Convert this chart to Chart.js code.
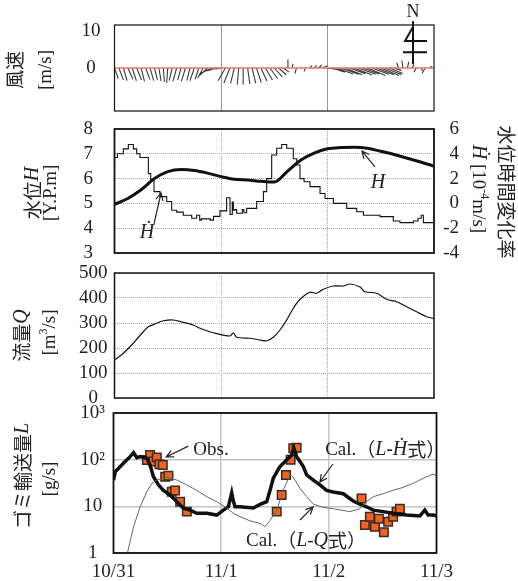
<!DOCTYPE html>
<html>
<head>
<meta charset="utf-8">
<script src="https://cdn.jsdelivr.net/npm/chart.js@4.4.0/dist/chart.umd.min.js"></script>
<style>
  html, body { margin: 0; padding: 0; background: #fff; }
  #wrap { position: relative; width: 518px; height: 581px; overflow: hidden; }
  #wrap canvas { position: absolute; left: 0; }
</style>
</head>
<body>
<div id="wrap">
  <canvas id="c1" width="518" height="125" style="top:0px"></canvas>
  <canvas id="c2" width="518" height="152" style="top:115px"></canvas>
  <canvas id="c3" width="518" height="153" style="top:259px"></canvas>
  <canvas id="c4" width="518" height="182" style="top:399px"></canvas>
</div>
<script>
// x values are days since 10/31 0:00
const dayLabels = ['10/31', '11/1', '11/2', '11/3'];

// wind, hourly from 10/31 0:00 (east, north components, m/s)
const windU = [1.0, 1.2, 1.0, 1.4, 1.1, 1.3, 0.9, 1.2, 1.0, 0.8, 0.6, 0.3, -0.3, -0.8, -1.0, -0.9, -1.1, -0.8, -1.2, -1.0, -1.5, -2.2, -3.0, -2.5,
  -1.5, -2.0, -1.6, -1.0, -0.4, 0.0, 0.6, 1.0, 1.3, 1.6, 1.9, 2.1, 2.2, 2.0, 1.6, 0.1, 0.3, -0.4, 0.2, -0.3, 0.6, 0.7, 0.8, 1.2,
  2.0, 3.5, 4.5, 4.8, 4.5, 4.2, 4.8, 4.6, 4.3, 4.8, 4.5, 4.7, 4.9, 4.4, 3.5, 2.0, -0.5, -0.3, 0.4, 0.6, -0.6, 0.5, -0.8, 0.7, 1.6];
const windV = [-2.8, -3.2, -3.4, -3.0, -3.4, -3.2, -3.6, -3.1, -3.4, -3.2, -3.5, -3.7, -4.0, -3.4, -3.6, -3.2, -3.5, -3.3, -3.4, -3.0, -2.7, -2.0, -1.4, -0.7,
  -0.3, -3.4, -4.0, -4.1, -4.4, -4.5, -4.3, -4.1, -3.9, -3.5, -3.2, -2.8, -2.4, -1.8, -1.1, 2.3, 1.1, -1.5, 0.3, -0.9, 0.6, 0.7, 0.8, 0.6,
  -0.3, -1.1, -1.6, -1.7, -1.8, -1.5, -1.9, -1.7, -1.6, -2.0, -1.7, -1.8, -2.0, -1.8, -1.5, -0.7, 1.4, 2.0, 1.7, 0.9, -1.1, -0.7, -1.4, 0.5, 0.6];

// water level H (Y.P.m), every 3 h
const hTime = [0, 0.125, 0.25, 0.375, 0.5, 0.625, 0.75, 0.875, 1.0, 1.125, 1.25, 1.375, 1.5, 1.625, 1.75, 1.875, 2.0, 2.125, 2.25, 2.375, 2.5, 2.625, 2.75, 2.875, 3.0];
const hLevel = [4.96, 5.2, 5.55, 6.0, 6.28, 6.37, 6.33, 6.22, 6.08, 5.97, 5.94, 5.89, 5.86, 6.3, 6.75, 7.03, 7.2, 7.25, 7.26, 7.22, 7.1, 6.97, 6.82, 6.67, 6.5];

// rate of change dH/dt (1e-4 m/s), step starts
const dhTime = [0, 0.027, 0.083, 0.13, 0.177, 0.208, 0.239, 0.318, 0.34, 0.371, 0.427, 0.49, 0.537, 0.584, 0.646, 0.725, 0.771, 0.80, 0.815, 0.9, 0.93, 0.99,
  1.053, 1.085, 1.106, 1.116, 1.131, 1.147, 1.2, 1.215, 1.241, 1.335, 1.398, 1.429, 1.476, 1.523, 1.57, 1.617, 1.679, 1.711, 1.742, 1.78, 1.836, 1.93, 1.977,
  2.055, 2.18, 2.274, 2.337, 2.493, 2.618, 2.681, 2.806, 2.85, 2.88, 2.90, 2.947, 3.0];
const dhRate = [2.8, 3.7, 4.0, 4.4, 4.75, 4.4, 4.0, 3.7, 2.4, 1.9, 0.95, 0.55, 0.15, -0.55, -0.7, -0.95, -1.2, -0.95, -1.35, -1.25, -1.35, -1.05,
  -0.6, 0.45, -0.9, 0.1, -0.55, -0.5, -0.8, -0.5, -0.75, -0.4, 0.15, 0.95, 2.0, 3.9, 4.45, 4.75, 4.45, 3.6, 3.1, 2.0, 1.75, 1.35, 0.8,
  0.4, 0.0, -0.4, -0.67, -0.95, -1.07, -1.42, -1.55, -1.42, -1.2, -0.95, -1.55, -1.55];

// discharge Q (m3/s)
const qTime = [0, 0.083, 0.161, 0.224, 0.271, 0.318, 0.396, 0.459, 0.552, 0.646, 0.740, 0.803, 0.928, 1.085, 1.116, 1.147, 1.272, 1.366, 1.429, 1.491,
  1.554, 1.617, 1.679, 1.742, 1.836, 1.898, 1.961, 2.055, 2.149, 2.211, 2.305, 2.352, 2.462, 2.556, 2.650, 2.743, 2.837, 2.931, 3.0];
const qFlow = [152, 179, 212, 243, 265, 285, 299, 309, 312, 303, 292, 279, 261, 248, 261, 243, 239, 232, 229, 243,
  272, 312, 359, 395, 423, 419, 435, 448, 448, 456, 444, 425, 419, 395, 385, 365, 345, 325, 318];

// litter transport L (g/s)
const calHTime = [0, 0.016, 0.062, 0.108, 0.155, 0.186, 0.217, 0.248, 0.31, 0.34, 0.371, 0.418, 0.464, 0.526, 0.588, 0.649, 0.711, 0.773, 0.866, 0.959,
  1.02, 1.067, 1.098, 1.113, 1.129, 1.175, 1.299, 1.361, 1.423, 1.454, 1.484, 1.546, 1.608, 1.655, 1.676, 1.701, 1.732, 1.763, 1.794, 1.856, 1.917,
  1.979, 2.041, 2.134, 2.226, 2.288, 2.35, 2.412, 2.505, 2.597, 2.721, 2.845, 2.891, 2.922, 2.968, 3.0];
const calHLoad = [36.6, 55, 71, 91, 116, 141, 110, 116, 107, 77, 43, 28.7, 22, 17.5, 12.6, 9.1, 8.3, 7.1, 7.1, 6.5,
  8.3, 9.8, 19.6, 13, 9.8, 9.8, 9.2, 11, 12.6, 22, 40, 71, 98, 126, 175, 116, 91, 71, 47, 36.6, 28.7,
  22, 20.3, 18.6, 13, 11.1, 9.8, 8.3, 7.7, 7.1, 6.5, 6.2, 8.3, 6.5, 6.5, 6.3];
const calQTime = [0.12, 0.186, 0.248, 0.31, 0.356, 0.402, 0.495, 0.588, 0.681, 0.773, 0.866, 0.959, 1.052, 1.113, 1.175, 1.268, 1.361, 1.407, 1.454,
  1.516, 1.577, 1.639, 1.67, 1.732, 1.794, 1.856, 1.948, 2.041, 2.196, 2.288, 2.35, 2.412, 2.505, 2.597, 2.69, 2.783, 2.876, 2.968, 3.0];
const calQLoad = [0.8, 3.66, 9.8, 20.6, 31, 36.6, 41.9, 36.6, 28.7, 22, 16.1, 12.6, 9.2, 7.1, 6.0, 4.9, 4.3, 3.66, 5.0,
  8.3, 22, 47, 42, 24.3, 16.1, 11.1, 9.5, 8.9, 7.7, 8.9, 12.6, 16.1, 18.6, 22, 25.5, 31, 40, 49, 45];
const obsTime = [0.31, 0.34, 0.371, 0.402, 0.427, 0.458, 0.48, 0.51, 0.541, 0.572, 0.619, 0.681,
  1.516, 1.562, 1.602, 1.645, 1.67, 1.701,
  2.304, 2.335, 2.381, 2.428, 2.465, 2.511, 2.551, 2.597, 2.629, 2.66];
const obsLoad = [98, 126, 91, 112, 80, 77, 43, 45, 20.6, 21.8, 12.6, 7.7,
  7.7, 17.5, 47, 100, 175, 180,
  14.8, 4.0, 6.0, 3.66, 5.4, 2.8, 4.7, 6.0, 7.7, 8.9];

const SERIF = '"Liberation Serif", "DejaVu Serif", serif';
const CJK = '"Noto Sans CJK JP", sans-serif';
const INK = '#222';
const CLEAR = 'rgba(0,0,0,0)';
const STICK_K = 0.035; // days per m/s so sticks keep their direction

Chart.defaults.font.family = SERIF;
Chart.defaults.color = INK;
Chart.defaults.animation = false;

function drawRich(ctx, x, y, rot, parts, align) {
  ctx.save();
  ctx.translate(x, y);
  ctx.rotate(rot);
  let total = 0;
  parts.forEach(function (p) { ctx.font = p[1]; total += ctx.measureText(p[0]).width; });
  let cx = align === 'left' ? 0 : -total / 2;
  ctx.textAlign = 'left';
  ctx.textBaseline = 'middle';
  ctx.fillStyle = INK;
  parts.forEach(function (p) {
    ctx.font = p[1];
    ctx.fillText(p[0], cx, p[2] || 0);
    cx += ctx.measureText(p[0]).width;
  });
  ctx.restore();
}

function arrow(ctx, x1, y1, x2, y2) {
  // line from 1 to 2, open head at 2
  let a = Math.atan2(y2 - y1, x2 - x1);
  ctx.save();
  ctx.strokeStyle = INK;
  ctx.lineWidth = 1.2;
  ctx.beginPath();
  ctx.moveTo(x1, y1);
  ctx.lineTo(x2, y2);
  ctx.moveTo(x2 - 8 * Math.cos(a - 0.45), y2 - 8 * Math.sin(a - 0.45));
  ctx.lineTo(x2, y2);
  ctx.lineTo(x2 - 8 * Math.cos(a + 0.45), y2 - 8 * Math.sin(a + 0.45));
  ctx.stroke();
  ctx.restore();
}

function framePlugin(width, extra) {
  return {
    id: 'frame',
    afterDraw(chart) {
      const ctx = chart.ctx;
      const a = chart.chartArea;
      ctx.save();
      ctx.strokeStyle = '#111';
      ctx.lineWidth = width;
      ctx.strokeRect(a.left, a.top, a.right - a.left, a.bottom - a.top);
      ctx.restore();
      if (extra) extra(chart, ctx, a, (a.top + a.bottom) / 2);
    },
  };
}

function xAxis(gridColor, dash, lineWidth, labels) {
  return {
    type: 'linear',
    min: 0,
    max: 3,
    border: { display: false, dash: dash },
    grid: {
      drawTicks: false,
      lineWidth: lineWidth,
      color: function (c) {
        return c.tick && (c.tick.value === 1 || c.tick.value === 2) ? gridColor : CLEAR;
      },
    },
    ticks: {
      display: labels,
      stepSize: 1,
      padding: 8,
      font: { size: 19 },
      maxRotation: 0,
      callback: function (v) { return dayLabels[v]; },
    },
    afterFit: function (s) { s.height = labels ? 28 : 0; },
  };
}

// left axis: labels centred, pushed off the frame by an invisible tick length
function leftY(opts, width, tl, grid) {
  return Object.assign({
    position: 'left',
    border: { display: false, dash: grid.dash || [] },
    grid: {
      drawOnChartArea: grid.show,
      color: grid.color || CLEAR,
      lineWidth: grid.width || 1,
      drawTicks: true,
      tickLength: tl,
      tickColor: CLEAR,
    },
    afterFit: function (s) { s.width = width; },
  }, opts);
}

function tickFont(extra) {
  return Object.assign({ crossAlign: 'center', padding: 0, autoSkip: false, font: { size: 19 } }, extra || {});
}

// ---------- panel 1: wind ----------
let windSticks = [];
for (let i = 0; i < windU.length; i++) {
  let t = i / 24;
  windSticks.push({ x: t, y: 0 });
  windSticks.push({ x: t + windU[i] * STICK_K, y: windV[i] });
  windSticks.push({ x: t, y: null });
}

new Chart(document.getElementById('c1'), {
  type: 'line',
  data: {
    datasets: [
      { data: [{ x: 0, y: 0 }, { x: 3, y: 0 }], borderColor: '#f07070', borderWidth: 1.6, pointRadius: 0 },
      { data: windSticks, borderColor: '#3a3a3a', borderWidth: 1.1, pointRadius: 0, spanGaps: false },
    ],
  },
  options: {
    responsive: false,
    layout: { padding: { left: 0, right: 84, top: 25, bottom: 14 } },
    plugins: { legend: { display: false }, tooltip: { enabled: false } },
    scales: {
      x: xAxis('#9a9a9a', [], 1, false),
      y: leftY({
        min: -11.5,
        max: 11.5,
        afterBuildTicks: function (s) { s.ticks = [{ value: 0 }, { value: 10 }]; },
        ticks: tickFont(),
      }, 114.5, 14, { show: false }),
    },
  },
  plugins: [framePlugin(1.2, function (chart, ctx, a, mid) {
    const xs = chart.scales.x, ys = chart.scales.y;
    const px = xs.getPixelForValue(2.803);
    ctx.save();
    ctx.strokeStyle = '#111';
    ctx.lineWidth = 2;
    ctx.beginPath();
    ctx.moveTo(px, ys.getPixelForValue(1));
    ctx.lineTo(px, ys.getPixelForValue(12.5));
    ctx.moveTo(px, ys.getPixelForValue(11));
    ctx.lineTo(px - 8, ys.getPixelForValue(7.2));
    ctx.lineTo(px + 14, ys.getPixelForValue(7.2));
    ctx.moveTo(px - 10, ys.getPixelForValue(4.2));
    ctx.lineTo(px + 14, ys.getPixelForValue(4.2));
    ctx.stroke();
    ctx.restore();
    drawRich(ctx, px, a.top - 13, 0, [['N', '18px ' + SERIF]]);
    drawRich(ctx, 15, mid + 2, -Math.PI / 2, [['風速', '19px ' + CJK]]);
    drawRich(ctx, 46, mid + 2, -Math.PI / 2, [['[m/s]', '19px ' + SERIF]]);
  })],
});

// ---------- panel 2: water level ----------
new Chart(document.getElementById('c2'), {
  type: 'line',
  data: {
    datasets: [
      {
        data: dhTime.map(function (t, i) { return { x: t, y: dhRate[i] }; }),
        yAxisID: 'y2', borderColor: '#111', borderWidth: 1.1, pointRadius: 0, stepped: 'after',
      },
      {
        data: hTime.map(function (t, i) { return { x: t, y: hLevel[i] }; }),
        yAxisID: 'y', borderColor: '#111', borderWidth: 3, pointRadius: 0, cubicInterpolationMode: 'monotone',
      },
    ],
  },
  options: {
    responsive: false,
    layout: { padding: { left: 0, right: 59, top: 14, bottom: 14 } },
    plugins: { legend: { display: false }, tooltip: { enabled: false } },
    scales: {
      x: xAxis('#aaa', [1, 1], 1, false),
      y: leftY({
        min: 3, max: 8,
        ticks: tickFont({ stepSize: 1 }),
      }, 114.5, 21.5, { show: true, color: '#aaa', dash: [1, 1] }),
      y2: {
        position: 'right',
        min: -4, max: 6,
        border: { display: false },
        grid: { drawOnChartArea: false, drawTicks: false },
        ticks: { stepSize: 2, crossAlign: 'far', padding: 0, autoSkip: false, font: { size: 19 } },
        afterFit: function (s) { s.width = 25; },
      },
    },
  },
  plugins: [framePlugin(1.8, function (chart, ctx, a, mid) {
    const xs = chart.scales.x, ys = chart.scales.y;
    const P = function (d, v) { return [xs.getPixelForValue(d), ys.getPixelForValue(v)]; };
    let p = P(2.446, 6.47), q = P(2.324, 7.11);
    arrow(ctx, p[0], p[1], q[0], q[1]);
    let l = P(2.474, 5.82);
    drawRich(ctx, l[0], l[1], 0, [['H', 'italic 20px ' + SERIF]]);
    p = P(0.371, 4.17); q = P(0.437, 5.42);
    arrow(ctx, p[0], p[1], q[0], q[1]);
    l = P(0.305, 3.81);
    drawRich(ctx, l[0], l[1], 0, [['Ḣ', 'italic 20px ' + SERIF]]);
    drawRich(ctx, 33, mid + 2, -Math.PI / 2, [['水位', '19px ' + CJK], ['H', 'italic 20px ' + SERIF]]);
    drawRich(ctx, 51, mid + 2, -Math.PI / 2, [['[Y.P.m]', '19px ' + SERIF]]);
    drawRich(ctx, 506, mid + 1, Math.PI / 2, [['水位時間変化率', '19px ' + CJK]]);
    drawRich(ctx, 478, mid - 2, Math.PI / 2, [['Ḣ', 'italic 20px ' + SERIF], [' [10', '19px ' + SERIF], ['-4', '12px ' + SERIF, -6], ['m/s]', '19px ' + SERIF]]);
  })],
});

// ---------- panel 3: discharge ----------
new Chart(document.getElementById('c3'), {
  type: 'line',
  data: {
    datasets: [{
      data: qTime.map(function (t, i) { return { x: t, y: qFlow[i] }; }),
      borderColor: '#111', borderWidth: 1.2, pointRadius: 0, tension: 0.3,
    }],
  },
  options: {
    responsive: false,
    layout: { padding: { left: 0, right: 84, top: 14, bottom: 14 } },
    plugins: { legend: { display: false }, tooltip: { enabled: false } },
    scales: {
      x: xAxis('#aaa', [1, 1], 1, false),
      y: leftY({
        min: 0, max: 500,
        ticks: tickFont({ stepSize: 100 }),
      }, 114.5, 7, { show: true, color: '#aaa', dash: [1, 1] }),
    },
  },
  plugins: [framePlugin(1.5, function (chart, ctx, a, mid) {
    drawRich(ctx, 22, mid, -Math.PI / 2, [['流量', '19px ' + CJK], ['Q', 'italic 20px ' + SERIF]]);
    drawRich(ctx, 50, mid - 3, -Math.PI / 2, [['[m', '19px ' + SERIF], ['3', '12px ' + SERIF, -6], ['/s]', '19px ' + SERIF]]);
  })],
});

// ---------- panel 4: litter transport ----------
new Chart(document.getElementById('c4'), {
  type: 'line',
  data: {
    datasets: [
      {
        data: calQTime.map(function (t, i) { return { x: t, y: calQLoad[i] }; }),
        borderColor: '#666', borderWidth: 1, pointRadius: 0,
      },
      {
        data: calHTime.map(function (t, i) { return { x: t, y: calHLoad[i] }; }),
        borderColor: '#111', borderWidth: 3.5, pointRadius: 0,
      },
      {
        data: obsTime.map(function (t, i) { return { x: t, y: obsLoad[i] }; }),
        showLine: false, pointStyle: 'rect', pointRadius: 6,
        backgroundColor: '#ee6422', borderColor: '#3a2a20', borderWidth: 1.5,
      },
    ],
  },
  options: {
    responsive: false,
    layout: { padding: { left: 0, right: 81.5, top: 14, bottom: 0 } },
    plugins: { legend: { display: false }, tooltip: { enabled: false } },
    scales: {
      x: xAxis('#c4c4c4', [], 1.5, true),
      y: leftY({
        type: 'logarithmic',
        min: 1, max: 1000,
        afterBuildTicks: function (s) { s.ticks = [{ value: 1 }, { value: 10 }, { value: 100 }, { value: 1000 }]; },
        ticks: tickFont({
          callback: function (v) { return { 1: '1', 10: '10', 100: '10²', 1000: '10³' }[v]; },
        }),
      }, 113.5, 8.5, { show: true, color: '#c4c4c4', width: 1.5 }),
    },
  },
  plugins: [framePlugin(1.8, function (chart, ctx, a, mid) {
    const xs = chart.scales.x, ys = chart.scales.y;
    const P = function (d, v) { return [xs.getPixelForValue(d), ys.getPixelForValue(v)]; };
    let p = P(0.695, 195), q = P(0.489, 114);
    arrow(ctx, p[0], p[1], q[0], q[1]);
    let l = P(0.741, 161);
    drawRich(ctx, l[0], l[1], 0, [['Obs.', '19px ' + SERIF]], 'left');
    p = P(2.038, 80.7); q = P(1.917, 33.2);
    arrow(ctx, p[0], p[1], q[0], q[1]);
    l = P(1.966, 161);
    drawRich(ctx, l[0], l[1], 0, [['Cal.', '19px ' + SERIF], ['（', '19px ' + CJK], ['L', 'italic 20px ' + SERIF],
      ['-', 'bold 19px ' + SERIF], ['Ḣ', 'italic 20px ' + SERIF], ['式', '19px ' + CJK], ['）', '19px ' + CJK]], 'left');
    p = P(1.732, 5.1); q = P(1.853, 9.7);
    arrow(ctx, p[0], p[1], q[0], q[1]);
    l = P(1.231, 1.81);
    drawRich(ctx, l[0], l[1], 0, [['Cal.', '19px ' + SERIF], ['（', '19px ' + CJK], ['L', 'italic 20px ' + SERIF],
      ['-', '19px ' + SERIF], ['Q', 'italic 20px ' + SERIF], ['式', '19px ' + CJK], ['）', '19px ' + CJK]], 'left');
    drawRich(ctx, 23, mid - 7, -Math.PI / 2, [['ゴミ輸送量', '19px ' + CJK], ['L', 'italic 20px ' + SERIF]]);
    drawRich(ctx, 50, mid - 4, -Math.PI / 2, [['[g/s]', '19px ' + SERIF]]);
  })],
});
</script>
</body>
</html>
